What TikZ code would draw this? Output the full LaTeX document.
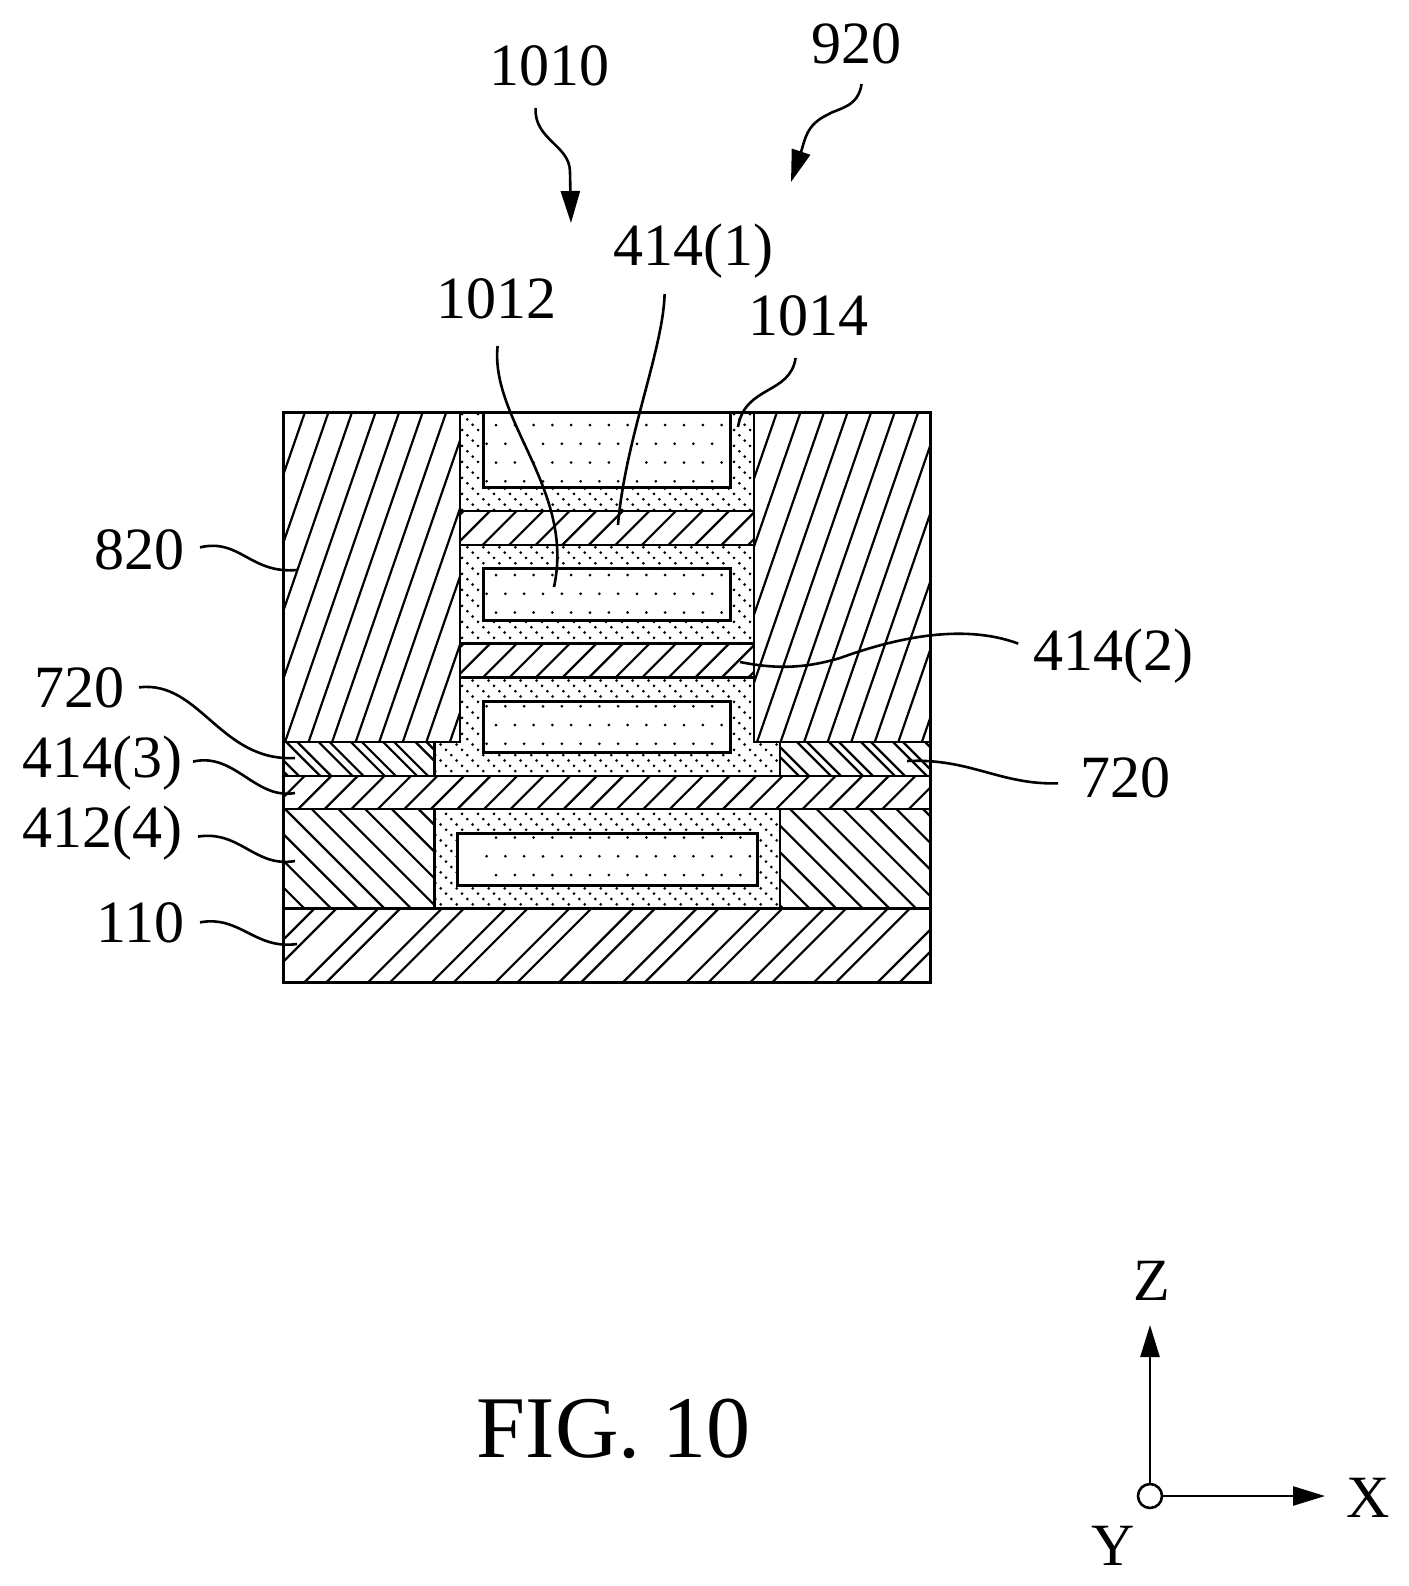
\documentclass[tikz,border=0pt]{standalone}
\usepackage{fontspec}
\setmainfont{Liberation Serif}
\usetikzlibrary{arrows.meta}

\tikzset{
	hatch_line/.style={line width=1.1pt},
	thin_line/.style={line width=1.1pt},
	thick_line/.style={line width=1.5pt},
	leader/.style={line width=1.3pt},
	ref_label/.style={anchor=base east, inner sep=0pt, font=\fontsize{30}{36}\selectfont},
	big_arrow/.style={line width=1.3pt, -{Stealth[length=16pt,width=9.5pt,inset=0pt]}}
}

\begin{document}
\begin{tikzpicture}[x=0.5pt, y=-0.5pt]

\useasboundingbox (0,0) rectangle (1409,1586);

% x1 y1 x2 y2 k0 dk n slope
\newcommand\hatchfield[8]{
	\begin{scope}
		\clip (#1,#2) rectangle (#3,#4);
		\foreach \i in {0,...,#7}
			\draw[hatch_line] ({#5+\i*#6-#8*#2},#2) -- ({#5+\i*#6-#8*#4},#4);
	\end{scope}
};
% x1 y1 x2 y2 first row, last row
\newcommand\dotfield[6]{
	\begin{scope}
		\clip (#1,#2) rectangle (#3,#4);
		\foreach \j in {#5,...,#6}
			\foreach \i in {0,...,14}
				\fill ({496+\i*18.8-9.4*mod(abs(\j),2)},{425+\j*18.75}) circle (1.5);
	\end{scope}
};

% Shell around the channels
\begin{scope}
	\clip (460,412) -- (754,412) -- (754,742) -- (780,742) -- (780,908) -- (434,908) -- (434,742) -- (460,742) -- cycle;
	\foreach \j in {0,...,93}
		\foreach \i in {0,...,22}
			\fill ({430+\i*16+5.33*mod(\j,3)},{414+\j*5.33}) circle (1.5);
\end{scope}

% Channel boxes
\fill[white] (483,412) rectangle (730,487);
\fill[white] (483,568) rectangle (730,620);
\fill[white] (483,701) rectangle (730,752);
\fill[white] (457,833) rectangle (757,885);
\dotfield{483}{412}{730}{487}{0}{3}
\dotfield{483}{568}{730}{620}{8}{10}
\dotfield{483}{701}{730}{752}{15}{17}
\dotfield{457}{833}{757}{885}{22}{24}
\draw[thick_line] (483,412) -- (483,487) -- (730,487) -- (730,412);
\draw[thick_line] (483,568) rectangle (730,620);
\draw[thick_line] (483,701) rectangle (730,752);
\draw[thick_line] (457,833) rectangle (757,885);

% Hatched regions
\fill[white] (460,511) rectangle (754,545);
\fill[white] (460,643) rectangle (754,677);
\fill[white] (283,776) rectangle (930,809);
\hatchfield{283}{412}{460}{742}{424}{23.55}{13}{0.346}
\hatchfield{754}{412}{930}{742}{896}{23.55}{13}{0.346}
\hatchfield{460}{511}{754}{545}{974.45}{26.55}{14}{1}
\hatchfield{460}{643}{754}{677}{1080.65}{26.55}{14}{1}
\hatchfield{283}{776}{930}{809}{1054.1}{26.55}{26}{1}
\hatchfield{283}{742}{434}{776}{-488}{32.3}{6}{-1}
\hatchfield{283}{742}{434}{776}{-477}{32.3}{6}{-1}
\hatchfield{780}{742}{930}{776}{-9}{32}{7}{-1}
\hatchfield{780}{742}{930}{776}{1}{32}{7}{-1}
\hatchfield{283}{809}{434}{908}{-630.8}{26.7}{10}{-1}
\hatchfield{780}{809}{930}{908}{-152}{26.6}{11}{-1}
\hatchfield{283}{908}{930}{982}{1159.3}{63.7}{12}{1}
\hatchfield{283}{908}{930}{982}{1181.3}{63.7}{12}{1}

% Outlines
\draw[thin_line] (460,412) -- (460,742) -- (283,742);
\draw[thin_line] (754,412) -- (754,742) -- (930,742);
\draw[thin_line] (460,511) -- (754,511);
\draw[thin_line] (460,545) -- (754,545);
\draw[thick_line] (460,643) -- (754,643);
\draw[thick_line] (460,677) -- (754,677);
\draw[thick_line] (434,742) -- (434,776);
\draw[thick_line] (434,809) -- (434,908);
\draw[thin_line] (780,742) -- (780,776);
\draw[thin_line] (780,809) -- (780,908);
\draw[thin_line] (283,776) -- (930,776);
\draw[thin_line] (283,809) -- (930,809);
\draw[thick_line] (283,908) -- (930,908);
\draw[thick_line] (283,412) rectangle (930,982);

% Labels
\node[ref_label] (label_1010) at (610,85) {1010};
\node[ref_label] (label_920) at (902,63) {920};
\node[ref_label] (label_414_1) at (774,265) {414(1)};
\node[ref_label] (label_1012) at (557,318) {1012};
\node[ref_label] (label_1014) at (869,335) {1014};
\node[ref_label] (label_820) at (185,569) {820};
\node[ref_label] (label_720_left) at (125,707) {720};
\node[ref_label] (label_414_3) at (183,777) {414(3)};
\node[ref_label] (label_412_4) at (183,847) {412(4)};
\node[ref_label] (label_110) at (185,942) {110};
\node[ref_label] (label_414_2) at (1194,670) {414(2)};
\node[ref_label] (label_720_right) at (1171,797) {720};

% Leader ends
\coordinate (tip_1010) at (571,223);
\coordinate (tip_920) at (791,182);
\coordinate (end_414_1) at (618,525);
\coordinate (end_1012) at (554,587);
\coordinate (end_1014) at (738,427);
\coordinate (end_820) at (297,570);
\coordinate (end_720_left) at (295,758);
\coordinate (end_414_3) at (295,793);
\coordinate (end_412_4) at (295,861);
\coordinate (end_110) at (297,944);
\coordinate (end_414_2) at (740,662);
\coordinate (end_720_right) at (907,761);

% Leaders
\draw[big_arrow] ([shift={(-14,22)}]label_1010.south) .. controls (534,140) and (570,145) .. (570,172) -- (tip_1010);
\draw[big_arrow] ([shift={(5,20)}]label_920.south) .. controls (858,108) and (838,108) .. (827,115) .. controls (806,125) and (805,140) .. (tip_920);
\draw[leader] ([shift={(-29,16)}]label_414_1.south) .. controls (663,350) and (625,440) .. (end_414_1);
\draw[leader] ([shift={(1,27)}]label_1012.south) .. controls (490,420) and (575,490) .. (end_1012);
\draw[leader] ([shift={(-13,22)}]label_1014.south) .. controls (790,395) and (745,385) .. (end_1014);
\draw[leader] ([shift={(15,-2)}]label_820.east) .. controls (240,538) and (250,574) .. (end_820);
\draw[leader] ([shift={(14,0)}]label_720_left.east) .. controls (200,680) and (220,762) .. (end_720_left);
\draw[leader] ([shift={(10,-1)}]label_414_3.east) .. controls (235,752) and (255,800) .. (end_414_3);
\draw[leader] ([shift={(15,4)}]label_412_4.east) .. controls (240,830) and (255,868) .. (end_412_4);
\draw[leader] ([shift={(15,0)}]label_110.east) .. controls (240,915) and (255,950) .. (end_110);
\draw[leader] ([shift={(-15,-12)}]label_414_2.west) .. controls (960,622) and (890,640) .. (840,658) .. controls (800,670) and (770,668) .. (end_414_2);
\draw[leader] ([shift={(-22,6)}]label_720_right.west) .. controls (1000,785) and (970,758) .. (end_720_right);

% Axes
\node[draw, circle, line width=1.3pt, minimum size=12pt, inner sep=0pt] (origin) at (1150,1496) {};
\coordinate (axis_z) at (1150,1325);
\coordinate (axis_x) at (1325,1496);
\draw[big_arrow] (origin) -- (axis_z);
\draw[big_arrow] (origin) -- (axis_x);
\node[ref_label] (label_z) at (1171,1300) {Z};
\node[ref_label] (label_x) at (1390,1517) {X};
\node[ref_label] (label_y) at (1135,1565) {Y};

% Figure title
\node[anchor=base east, inner sep=0pt, font=\fontsize{44}{50}\selectfont] (figure_title) at (751,1457) {FIG. 10};

\end{tikzpicture}
\end{document}
